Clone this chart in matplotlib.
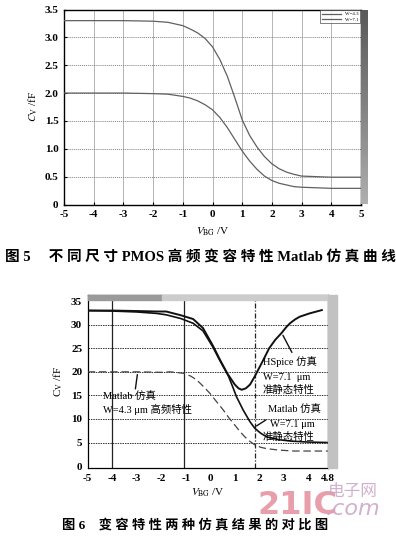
import matplotlib
matplotlib.use('Agg')
import matplotlib.pyplot as plt
import numpy as np
from matplotlib.patches import Rectangle

plt.rcParams['font.family'] = ['Liberation Serif', 'Noto Sans CJK SC']
plt.rcParams['mathtext.fontset'] = 'stix'
plt.rcParams['axes.unicode_minus'] = False

# --- Fig 5: Matlab high-frequency C-V, two widths ---
v5 = [-5, -4, -3, -2, -1.5, -1, -0.75, -0.5, -0.25, 0, 0.25, 0.5, 0.75, 1, 1.25, 1.5, 1.75,
      2, 2.25, 2.5, 2.75, 3, 3.5, 4, 5]
c5_w71 = [3.30, 3.30, 3.30, 3.29, 3.27, 3.21, 3.15, 3.08, 2.98, 2.83, 2.60, 2.30, 1.92, 1.52,
          1.24, 1.03, 0.86, 0.73, 0.64, 0.58, 0.54, 0.51, 0.50, 0.49, 0.49]
c5_w43 = [2.00, 2.00, 2.00, 1.99, 1.98, 1.94, 1.91, 1.86, 1.79, 1.70, 1.56, 1.38, 1.17, 0.96,
          0.78, 0.63, 0.51, 0.43, 0.38, 0.35, 0.32, 0.31, 0.30, 0.29, 0.29]
v5_ticks = [-5, -4, -3, -2, -1, 0, 1, 2, 3, 4, 5]
c5_ticks = [0, 0.5, 1.0, 1.5, 2.0, 2.5, 3.0, 3.5]
c5_labels = ['0', '0.5', '1.0', '1.5', '2.0', '2.5', '3.0', '3.5']
legend5 = ['W=4.3', 'W=7.1']

# --- Fig 6: HSpice vs Matlab ---
v_hs = [-5, -4, -3, -2.2, -1.8, -1.2, -0.7, -0.3, 0.1, 0.4, 0.7, 1.0, 1.15, 1.28, 1.45, 1.62,
        1.8, 1.95, 2.15, 2.4, 2.65, 2.9, 3.1, 3.25, 3.45, 3.65, 4.05, 4.55]
c_hs = [33.0, 33.0, 32.9, 32.8, 32.8, 32.0, 31.2, 29.3, 25.6, 22.5, 19.6, 17.3, 16.5, 16.2,
        16.5, 17.3, 18.9, 20.4, 22.4, 25.0, 26.8, 28.2, 29.5, 30.3, 31.1, 31.7, 32.4, 33.1]
v_m71 = [-5, -4, -3, -2.2, -1.8, -1.2, -0.7, -0.3, 0.1, 0.4, 0.73, 0.9, 1.07, 1.34, 1.62, 1.82,
         2.05, 2.3, 2.8, 3.3, 4.0, 4.8]
c_m71 = [33.0, 32.9, 32.7, 32.4, 32.1, 31.3, 30.3, 28.7, 25.3, 22.3, 19.2, 17.0, 14.7, 11.9,
         9.4, 8.0, 7.0, 6.2, 5.6, 5.3, 5.1, 5.0]
v_m43 = [-5, -4, -3, -2, -1.64, -1.1, -0.8, -0.56, -0.3, -0.01, 0.25, 0.53, 0.75, 1.0, 1.2,
         1.41, 1.6, 1.82, 2.05, 2.3, 2.8, 3.4, 4.0, 4.8]
c_m43 = [20.0, 20.0, 20.0, 19.9, 20.0, 19.7, 19.1, 18.3, 17.0, 15.4, 13.7, 11.9, 10.3, 8.7,
         7.4, 6.2, 5.3, 4.5, 4.0, 3.7, 3.4, 3.2, 3.2, 3.2]
v6_ticks = [-5, -4, -3, -2, -1, 0, 1, 2, 3, 4, 4.8]
v6_labels = ['-5', '-4', '-3', '-2', '-1', '0', '1', '2', '3', '4', '4.8']
v6_grid = [-4.0, -1.07, 1.84]
c6_ticks = [0, 5, 10, 15, 20, 25, 30, 35]

fig = plt.figure(figsize=(3.96, 5.36), dpi=100)
W, H = 396, 536

# ===== Fig 5 =====
ax1 = fig.add_axes([64 / W, 1 - 204.5 / H, 297 / W, 195 / H])
for v in v5_ticks:
    ax1.axvline(v, color='#a8a8a8', lw=0.6, zorder=1)
for c in c5_ticks[1:-1]:
    ax1.axhline(c, color='#808080', lw=0.7, ls=(0, (1, 1)), zorder=1)
ax1.plot(v5, c5_w43, color='#606060', lw=0.9, label=legend5[0], zorder=3)
ax1.plot(v5, c5_w71, color='#606060', lw=0.9, label=legend5[1], zorder=3)
ax1.set_xlim(-5, 5)
ax1.set_ylim(0, 3.5)
ax1.set_xticks(v5_ticks)
ax1.set_yticks(c5_ticks)
ax1.set_yticklabels(c5_labels)
ax1.tick_params(labelsize=8, direction='in', length=2, pad=4)
for lab in ax1.get_xticklabels() + ax1.get_yticklabels():
    lab.set_fontweight('bold')
for s in ax1.spines.values():
    s.set_linewidth(1.0)
ax1.set_xlabel(r'$V_{\rm BG}$ /V', fontsize=8, labelpad=5)
ax1.set_ylabel(r'$C_{\rm V}$ /fF', fontsize=8, labelpad=3)
leg = ax1.legend(loc='upper right', fontsize=3.5, handlelength=4, frameon=True, fancybox=False,
                 edgecolor='#444444', borderaxespad=0.2, borderpad=0.3, labelspacing=0.2)
leg.get_frame().set_linewidth(0.6)

# dark bar at right of fig 5
axb = fig.add_axes([361 / W, 1 - 204.5 / H, 7 / W, 195 / H])
axb.imshow(np.linspace(0.72, 0.42, 60).reshape(-1, 1), cmap='Greys', vmin=0, vmax=1, aspect='auto')
axb.axis('off')

fig.text(5 / W, 1 - 258 / H, '图 5     不 同 尺 寸 PMOS 高 频 变 容 特 性 Matlab 仿 真 曲 线',
         fontsize=10.5, fontweight='bold', ha='left', va='center')

# ===== Fig 6 =====
ax2 = fig.add_axes([87.7 / W, 1 - 468 / H, 240.3 / W, 173 / H])
for c in c6_ticks[1:-1]:
    ax2.axhline(c, color='#333333', lw=0.7, ls=(0, (1.5, 1)), zorder=1)
ax2.axvline(v6_grid[0], color='#222222', lw=0.9, zorder=1)
ax2.axvline(v6_grid[1], color='#222222', lw=0.9, zorder=1)
ax2.axvline(v6_grid[2], color='#222222', lw=0.9, ls=(0, (4, 1.5, 1, 1.5)), zorder=1)
ax2.plot(v_m43, c_m43, color='#444444', lw=0.9, ls=(0, (6, 3)), zorder=3)
ax2.plot(v_m71, c_m71, color='#111111', lw=1.2, zorder=3)
ax2.plot(v_hs, c_hs, color='#111111', lw=1.4, zorder=3)
ax2.set_xlim(-5, 4.8)
ax2.set_ylim(-0.4, 36.3)
ax2.set_xticks(v6_ticks)
ax2.set_xticklabels(v6_labels)
ax2.set_yticks(c6_ticks)
ax2.tick_params(labelsize=8, direction='in', length=0, pad=4)
for lab in ax2.get_xticklabels() + ax2.get_yticklabels():
    lab.set_fontweight('bold')
for s in ax2.spines.values():
    s.set_linewidth(0.9)
ax2.set_xlabel(r'$V_{\rm BG}$ /V', fontsize=8, labelpad=3)
ax2.set_ylabel(r'C$_{\rm V}$ /fF', fontsize=8, labelpad=4)

ax2.add_patch(Rectangle((0, 1 - 5 / 173), 0.31, 5 / 173, transform=ax2.transAxes,
                        color='#9a9a9a', clip_on=False, zorder=4))
ax2.add_patch(Rectangle((0.31, 1 - 5 / 173), 0.69, 5 / 173, transform=ax2.transAxes,
                        color='#cccccc', clip_on=False, zorder=4))
ax2.add_patch(Rectangle((1, 0), 9 / 240.3, 1, transform=ax2.transAxes,
                        color='#c2c2c2', clip_on=False, zorder=4))

fs = 7.5
ax2.text(-4.38, 14.6, 'Matlab 仿真', fontsize=fs, va='center')
ax2.text(-4.38, 12.1, 'W=4.3 μm 高频特性', fontsize=fs, va='center')
ax2.annotate('', xy=(-2.96, np.interp(-2.96, v_m43, c_m43)), xytext=(-3.07, 15.8),
             arrowprops=dict(arrowstyle='-', color='#111111', lw=1.0))
ax2.text(2.15, 22.1, 'HSpice 仿真', fontsize=fs, va='center')
ax2.text(2.15, 18.8, 'W=7.1  μm', fontsize=fs, va='center')
ax2.text(2.15, 16.1, '准静态特性', fontsize=fs, va='center')
ax2.annotate('', xy=(2.91, np.interp(2.91, v_hs, c_hs)), xytext=(3.38, 23.6),
             arrowprops=dict(arrowstyle='-', color='#111111', lw=1.0))
ax2.text(2.36, 11.9, 'Matlab 仿真', fontsize=fs, va='center')
ax2.text(2.44, 8.9, 'W=7.1 μm', fontsize=fs, va='center')
ax2.text(2.15, 6.2, '准静态特性', fontsize=fs, va='center')
ax2.annotate('', xy=(1.79, np.interp(1.79, v_m71, c_m71)), xytext=(2.36, 10.1),
             arrowprops=dict(arrowstyle='-', color='#111111', lw=1.0))

fig.text(62 / W, 1 - 525 / H, '图 6    变 容 特 性 两 种 仿 真 结 果 的 对 比 图',
         fontsize=9.5, fontweight='bold', ha='left', va='center')

# watermark
fig.text(258 / W, 1 - 506 / H, '21IC', fontsize=23, fontweight='bold', color='#e58d9c',
         family='DejaVu Sans', ha='left', va='center', alpha=0.85)
fig.text(328 / W, 1 - 491 / H, '电子网', fontsize=12, color='#c9a3c7', family='Noto Sans CJK SC',
         ha='left', va='center', alpha=0.85)
fig.text(326 / W, 1 - 509 / H, '.com', fontsize=16, color='#c9a3c7', style='italic',
         family='DejaVu Sans', ha='left', va='center', alpha=0.85)

fig.savefig('out.png', dpi=100)
